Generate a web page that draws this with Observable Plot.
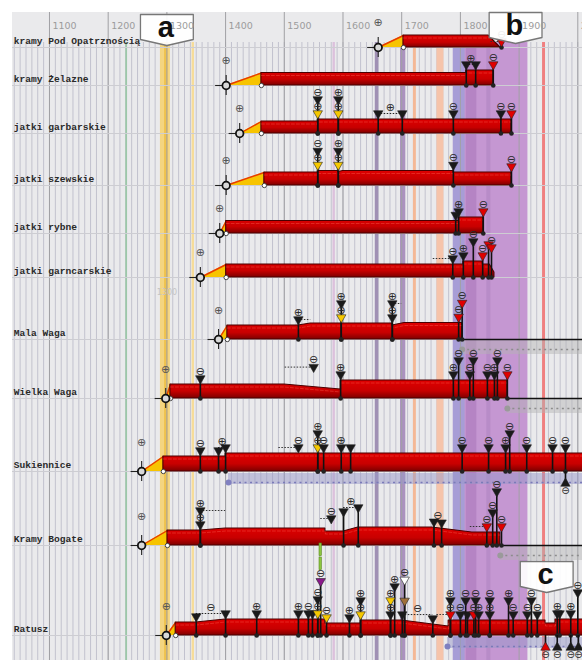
<!DOCTYPE html>
<html><head><meta charset="utf-8">
<script src="https://cdn.jsdelivr.net/npm/d3@7"></script>
<script src="https://cdn.jsdelivr.net/npm/@observablehq/plot@0.6"></script>
<style>body{margin:0;overflow:hidden;background:#fff}</style>
</head><body><div id="chart"></div>
<script>
// ---------- DATA ----------
const rowNames = ["kramy Pod Opatrznością","kramy Żelazne","jatki garbarskie","jatki szewskie","jatki rybne","jatki garncarskie","Mala Waga","Wielka Waga","Sukiennice","Kramy Bogate","Ratusz"];
const rowBase  = [35, 73, 121, 173, 221, 265, 327, 386, 459, 533, 623]; // track positions
const rowStart = [1660,1401,1424,1401,1390,1357,1388,1298,1257,1257,1299];
const rowBuilt = [1703,1461,1461,1466,1401,1401,1403,1306,1294,1301,1315];
const rowProfiles = [
 [[1703,12],[1848,12],[1868,0]],
 [[1461,12.5],[1810,12.5],[1810,15],[1856,15]],
 [[1461,12],[1557,12],[1557,14],[1887,14]],
 [[1466,13],[1557,13],[1557,14.5],[1592,14.5],[1592,13.5],[1600,14.5],[1788,14.5],[1788,13],[1887,13]],
 [[1401,12.5],[1797,12.5],[1797,16],[1839,16]],
 [[1401,13],[1805,13],[1805,16],[1838,16],[1838,13],[1850,13],[1858,5],[1858,0]],
 [[1403,14],[1524,14],[1545,16],[1684,16],[1684,14],[1705,16.5],[1803,16.5]],
 [[1306,14],[1500,14],[1596,9],[1596,18],[1880,18]],
 [[1294,15],[1400,15],[1400,18],[2010,18]],
 [[1301,15],[1357,15],[1400,17],[1570,17],[1570,14],[1601,14],[1626,18],[1752,18],[1820,13],[1868,13]],
 [[1315,13],[1350,13],[1400,16],[1570,16],[1570,12],[1630,12],[1630,15],[1700,15],[1780,9],[1780,15],[1945,15],[1945,12],[1962,12],[1962,16],[2010,16]]
];
// [row, year, colour, symbol, lift, rule?]
const events = [
 [0,1870,"r","-",0],
 [1,1810,"k","",0],[1,1826,"k","",0],[1,1856,"r","-",0],
 [2,1557,"y","-",0],[2,1557,"k","-",1],[2,1592,"y","-",0],[2,1592,"k","+",1],[2,1660,"k","",0],[2,1701,"k","",0],[2,1788,"k","-",0],[2,1869,"k","-",0],[2,1887,"r","-",0],
 [3,1557,"y","-",0],[3,1557,"k","-",1],[3,1592,"y","-",0],[3,1592,"k","+",1],[3,1788,"k","-",0],[3,1887,"r","-",0],
 [4,1792,"k","",0],[4,1797,"k","+",0],[4,1839,"r","-",0],
 [5,1787,"k","-",0],[5,1805,"k","+",0],[5,1822,"k","-",1],[5,1838,"r","-",0],[5,1848,"r","",1],[5,1853,"r","-",1],
 [6,1524,"k","+",0],[6,1597,"y","-",0],[6,1597,"k","+",1],[6,1684,"k","-",0],[6,1684,"k","+",1],[6,1797,"r","-",0],[6,1803,"r","-",1],
 [7,1357,"k","-",0],[7,1550,"k","-",1,0],[7,1596,"k","+",0],[7,1788,"k","+",0],[7,1797,"k","-",1],[7,1816,"k","-",0],[7,1822,"k","-",1],[7,1846,"k","-",0],[7,1858,"k","+",0],[7,1863,"k","-",1],[7,1880,"r","-",0],
 [8,1357,"k","-",0],[8,1388,"k","",0],[8,1400,"k","",0],[8,1524,"k","-",0,0],[8,1557,"y","-",0],[8,1557,"k","+",1],[8,1567,"k","-",0],[8,1597,"k","+",0],[8,1613,"k","",0],[8,1803,"k","-",0],[8,1848,"k","-",0],[8,1877,"k","+",0],[8,1884,"k","-",1],[8,1913,"k","-",0],[8,1957,"k","-",0],[8,1979,"k","-",0],
 [9,1357,"k","-",0],[9,1357,"k","+",1],[9,1580,"k","-",0.5,0],[9,1601,"k","",1],[9,1626,"k","",1],[9,1755,"k","",0],[9,1768,"k","",0],[9,1845,"r","-",0],[9,1855,"k","-",1],[9,1862,"k","-",2.5],[9,1870,"r","-",0],
 [10,1350,"k","",0],[10,1400,"k","",0],[10,1453,"k","+",0],[10,1524,"k","+",0],[10,1541,"k","-",0],[10,1548,"k","",0],[10,1557,"y","-",0],[10,1557,"k","-",1],[10,1562,"p","-",2.3],[10,1572,"y","-",0],[10,1611,"k","+",0],[10,1630,"y","-",0],[10,1630,"k","+",1],[10,1681,"k","-",0],[10,1681,"y","+",1],[10,1688,"k","+",2],[10,1705,"b","",1],[10,1705,"w","-",2.5],[10,1701,"k","",0],[10,1753,"k","",0],[10,1783,"r","-",0],[10,1783,"k","+",1],[10,1800,"k","-",0],[10,1809,"k","-",1],[10,1812,"k","",0],[10,1823,"r","-",0],[10,1826,"k","-",1],[10,1831,"k","+",0],[10,1850,"k","-",0],[10,1850,"k","-",1],[10,1882,"k","+",1],[10,1890,"k","-",0],[10,1914,"k","-",0],[10,1921,"k","-",1],[10,1931,"k","-",0],[10,1965,"k","+",0],[10,1969,"k","",0],[10,1988,"k","+",0],[10,2000,"k","-",1.5]
];
// [row, year1, year2, symbol, lift]
const brackets = [[1,1810,1826,"+",0],[2,1660,1701,"+",0],[8,1388,1400,"+",0],[9,1601,1626,"+",1],[9,1755,1768,"-",0],[10,1350,1400,"-",0],[10,1701,1753,"-",0]];
// [row, year, to, lift]
const leaders = [[0,1870,1852,0],[5,1787,1752,0],[6,1524,1545,0],[6,1684,1700,1],[7,1550,1500,1],[8,1524,1490,0],[9,1357,1400,1],[9,1580,1562,0.5],[9,1845,1815,0],[10,1783,1760,0]];
// markers below the baseline: [row, year, colour]
const below = [[10,1945,"r"],[10,1965,"k"],[10,1988,"k"],[10,2001,"k"],[8,1979,"k"]];
// stacked green segments: [row, year, liftFrom, liftTo]
const greenBars = [[10,1562,3.1,4.0],[10,1562,4.1,5.0]];
// continuation after the end: [row, year]
const contGray = [[6,1803],[7,1880],[9,1868]];
const contBlue = [[8,1405],[10,1778]];
// vertical period bands [from, to, colour]
const vbands = [
 [1230,1233,"#9cc8a8"],[1289,1306,"#f4d580"],[1296,1302,"#efc24e"],[1343,1347,"#f6dc98"],
 [1583,1587,"#dcc0dc"],[1655,1661,"#a090b4"],[1698,1707,"#ab92bf"],[1720,1725,"#f4b896"],
 [1760,1772,"#f6c4aa"],[1788,1915,"#c597d2"],[1788,1808,"#a79dd6"],[1810,1828,"#b584c4"],
 [1845,1852,"#b88cc8"],[1940,1945,"#f07f7f"]
];
const axisYears = [1100,1200,1300,1400,1500,1600,1700,1800,1900,2000];
const callouts = [["a",1300,2],["b",1894,0],["c",1947,549]];

// ---------- DERIVED ----------
const LIFT = 14;
const colors = {k:"#1a1a1a", r:"#e00000", y:"#f5c800", p:"#8b1a8b", b:"#a0703a", w:"#ffffff"};
const sym = {"+":"⊕","-":"⊖"};
function hAt(r, yr) {
  const p = rowProfiles[r]; let best = 0;
  if (yr >= p[p.length-1][0]) return p[p.length-1][1];
  for (let i = 0; i < p.length-1; i++) {
    const a = p[i], b = p[i+1];
    if (yr >= a[0] && yr <= b[0]) {
      const h = a[0] === b[0] ? Math.max(a[1], b[1]) : a[1] + (b[1]-a[1])*(yr-a[0])/(b[0]-a[0]);
      best = Math.max(best, h);
    }
  }
  return best;
}
const tyOf = (r, yr, l) => rowBase[r] - hAt(r, yr) - 6 - l*LIFT;
const ev = events.map(([r,yr,c,s,l,rule]) => ({r, yr, c, s, l, rule: rule !== 0, base: rowBase[r], ty: tyOf(r,yr,l)}));
const redPts = rowProfiles.flatMap((p,r) => p.map(([yr,h]) => ({row:r, x:yr, b:rowBase[r], t:rowBase[r]-h})));
const yellowPts = rowNames.flatMap((_,r) => [
  {row:r, x:rowStart[r], b:rowBase[r], t:rowBase[r]},
  {row:r, x:rowBuilt[r], b:rowBase[r], t:rowBase[r]-rowProfiles[r][0][1]}]);
const br = brackets.map(([r,a,b,s,l]) => {const ty = Math.min(tyOf(r,a,l), tyOf(r,b,l)); return {r,a,b,s,ty};});
const ld = leaders.map(([r,a,b,l]) => ({r,a,b,ty:tyOf(r,a,l)}));
const rows = rowNames.map((n,i) => ({i, n, base:rowBase[i], start:rowStart[i], built:rowBuilt[i]}));
const decades = d3.range(1040, 2010, 10);
const boxPts = callouts.flatMap(([k,c,t]) => [[c-45,t],[c+45,t],[c+45,t+25],[c,t+31],[c-45,t+25],[c-45,t]].map(([x,y]) => ({k,x,y})));
const grads = () => {
  const defs = d3.create("svg:defs");
  const g = defs.append("linearGradient").attr("id","rg").attr("x1",0).attr("y1",0).attr("x2",0).attr("y2",1);
  g.append("stop").attr("offset","0%").attr("stop-color","#e00000");
  g.append("stop").attr("offset","60%").attr("stop-color","#c80000");
  g.append("stop").attr("offset","100%").attr("stop-color","#7e0000");
  return defs.node();
};
const symFont = {fontSize: 11, fontFamily: "DejaVu Sans", fill: "#2a2a2a"};

const chart = Plot.plot({
  width: 582, height: 660, margin: 0,
  x: {domain: [1037, 2008], range: [12, 582], axis: null},
  y: {domain: [0, 648], range: [12, 660], axis: null},
  style: {background: "white"},
  marks: [
    grads,
    Plot.rect([0], {x1: 1037, x2: 2008, y1: 0, y2: 648, fill: "#eaeaec"}),
    Plot.ruleX(decades, {y1: 30, y2: 648, stroke: "#c2c2ce", strokeWidth: 1}),
    Plot.rect(vbands, {x1: d => d[0], x2: d => d[1], y1: 30, y2: 648, fill: d => d[2]}),
    Plot.ruleX(axisYears, {y1: 0, y2: 648, stroke: "#a0a0a4", strokeWidth: 1}),
    Plot.ruleY(rows, {y: "base", x1: 1037, x2: 2008, stroke: "#cdcdd2"}),
    // continuation bands
    Plot.rect(contGray, {x1: d => d[1], x2: 2008, y1: d => rowBase[d[0]]+1, y2: d => rowBase[d[0]]+15, fill: "#b4b4b4", fillOpacity: 0.45}),
    Plot.ruleY(contGray, {x1: d => d[1], x2: 2008, y: d => rowBase[d[0]]+10, stroke: "#8c8c8c", strokeDasharray: "2,3.5", strokeWidth: 1.5}),
    Plot.dot(contGray, {x: d => d[1], y: d => rowBase[d[0]]+10, r: 3, fill: "#9a9a9a"}),
    Plot.ruleY(contGray, {x1: d => d[1], x2: 2008, y: d => rowBase[d[0]], stroke: "#111", strokeWidth: 1.3}),
    Plot.rect(contBlue, {x1: d => d[1], x2: 2008, y1: d => rowBase[d[0]]+2, y2: d => rowBase[d[0]]+13, fill: "#9898c8", fillOpacity: 0.5}),
    Plot.ruleY(contBlue, {x1: d => d[1], x2: 2008, y: d => rowBase[d[0]]+11, stroke: "#7a7ab8", strokeDasharray: "2,3.5", strokeWidth: 1.5}),
    Plot.dot(contBlue, {x: d => d[1], y: d => rowBase[d[0]]+11, r: 3, fill: "#8080c0"}),
    // construction
    Plot.area(yellowPts, {x1: "x", y1: "b", y2: "t", z: "row", fill: "#f7c400"}),
    Plot.line(yellowPts, {x: "x", y: "t", z: "row", stroke: "#e83a00", strokeWidth: 1.4}),
    // bars
    Plot.area(redPts, {x1: "x", y1: "b", y2: "t", z: "row", fill: "url(#rg)", stroke: "#4a0000", strokeWidth: 1.1}),
    Plot.line(redPts.filter(d => d.b - d.t > 5), {x: "x", y: d => d.t + 2.5, z: "row", stroke: "#ff6a5a", strokeWidth: 0.6, strokeDasharray: "3,2", strokeOpacity: 0.6}),
    Plot.dot(rows, {x: "built", y: "base", r: 2.2, fill: "white", stroke: "#333", strokeWidth: 0.9}),
    // events
    Plot.rect(greenBars, {x1: d => d[1]-2, x2: d => d[1]+2, y1: d => tyOf(d[0],d[1],d[2]), y2: d => tyOf(d[0],d[1],d[3]), fill: "#8cc63f", stroke: "#5a8a20", strokeWidth: 0.6}),
    Plot.ruleX(ev.filter(d => d.rule), {x: "yr", y1: "base", y2: "ty", stroke: "#111", strokeWidth: 1.6}),
    Plot.dot(ev.filter(d => d.rule), {x: "yr", y: "base", r: 2.3, fill: "#222"}),
    Plot.ruleY(br, {x1: "a", x2: "b", y: "ty", stroke: "#222", strokeWidth: 1, strokeDasharray: "1.5,1.5"}),
    Plot.ruleY(ld, {x1: "a", x2: "b", y: "ty", stroke: "#333", strokeWidth: 1, strokeDasharray: "1.5,1.5"}),
    Plot.dot(ev, {x: "yr", y: "ty", symbol: "triangle", rotate: 180, r: 3.5, fill: d => colors[d.c], stroke: "#222", strokeWidth: 0.6}),
    Plot.text(ev.filter(d => d.s), {x: "yr", y: d => d.ty - 7.5, text: d => sym[d.s], ...symFont}),
    Plot.text(br, {x: d => (d.a + d.b)/2, y: d => d.ty - 6.5, text: d => sym[d.s], ...symFont}),
    // markers below baseline
    Plot.ruleX(below, {x: d => d[1], y1: d => rowBase[d[0]], y2: d => rowBase[d[0]]+12, stroke: "#111", strokeWidth: 1.6}),
    Plot.dot(below, {x: d => d[1], y: d => rowBase[d[0]]+12, symbol: "triangle", r: 3.5, fill: d => colors[d[2]], stroke: "#222", strokeWidth: 0.6}),
    Plot.text(below, {x: d => d[1], y: d => rowBase[d[0]]+19.5, text: () => "⊖", ...symFont, fontSize: 10}),
    // start markers
    Plot.ruleX(rows, {x: "start", y1: d => d.base - 10, y2: d => d.base + 10, stroke: "#222", strokeWidth: 1.1}),
    Plot.ruleY(rows, {y: "base", x1: d => d.start - 18, x2: "start", stroke: "#222", strokeWidth: 1.1}),
    Plot.dot(rows, {x: "start", y: "base", r: 3.8, fill: "#d8d8d8", stroke: "#111", strokeWidth: 1.8}),
    Plot.text(rows, {x: "start", y: d => d.base - (d.i > 5 ? 29 : 25), text: () => "⊕", ...symFont, fill: "#555"}),
    // callouts
    Plot.line(boxPts, {x: "x", y: "y", z: "k", fill: "white", fillOpacity: 0.92, stroke: "#777", strokeWidth: 1.3}),
    Plot.text(axisYears, {x: d => d, y: 13, dx: 3, text: d => String(d), textAnchor: "start", fontSize: 9.5, fontFamily: "DejaVu Sans", fill: "#9c9c9c"}),
    Plot.text([1300], {x: d => d, y: 280, text: d => String(d), fontSize: 8, fontFamily: "DejaVu Sans", fill: "#c4c4c4"}),
    Plot.text(callouts, {x: d => d[1] - 2, y: d => d[2] + 13.5, text: d => d[0], fontSize: 29, fontWeight: "bold", fontFamily: "Liberation Sans", fill: "#111"}),
    // row labels
    Plot.text(rows, {x: 1039, y: d => d.base - 6.5, text: "n", textAnchor: "start", fontSize: 9.6, fontWeight: "bold", fontFamily: "Liberation Mono", fill: "#2a2a2a"})
  ]
});
document.getElementById("chart").append(chart);
</script>
</body></html>
